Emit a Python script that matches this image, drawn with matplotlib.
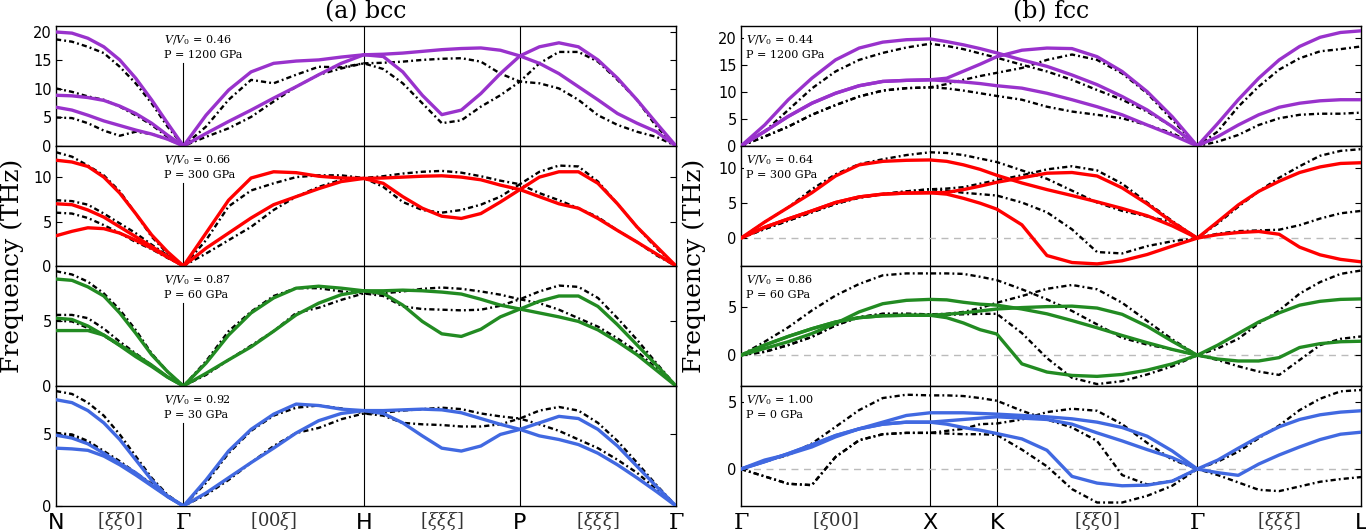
import numpy as np
import matplotlib.pyplot as plt

plt.rcParams['mathtext.fontset'] = 'dejavuserif'

# ---- high-symmetry paths -------------------------------------------------
bcc_points = ['N', r'$\Gamma$', 'H', 'P', r'$\Gamma$']
bcc_dirs = [r'$[\xi\xi0]$', r'$[00\xi]$', r'$[\xi\xi\xi]$', r'$[\xi\xi\xi]$']
bcc_seg_len = [np.sqrt(2) / 2, 1.0, np.sqrt(3) / 2, np.sqrt(3) / 2]
bcc_npts = [9, 9, 9, 9]

fcc_points = [r'$\Gamma$', 'X', 'K', r'$\Gamma$', 'L']
fcc_dirs = [r'$[\xi00]$', '', r'$[\xi\xi0]$', r'$[\xi\xi\xi]$']
fcc_seg_len = [1.0, np.sqrt(2) / 4, 3 * np.sqrt(2) / 4, np.sqrt(3) / 2]
fcc_npts = [9, 5, 9, 9]

# ---- panel info ---------------------------------------------------------
bcc_vv = ['0.46', '0.66', '0.87', '0.92']
bcc_p = ['1200', '300', '60', '30']
bcc_ylim = [(0, 21.05), (0, 13.5), (0, 9.2), (0, 8.3)]
bcc_yticks = [[0, 5, 10, 15, 20], [0, 5, 10], [0, 5], [0, 5]]

fcc_vv = ['0.44', '0.64', '0.86', '1.00']
fcc_p = ['1200', '300', '60', '0']
fcc_ylim = [(0, 22.3), (-4.0, 13.2), (-3.2, 9.27), (-2.76, 6.2)]
fcc_yticks = [[0, 5, 10, 15, 20], [0, 5, 10], [0, 5], [0, 5]]

colors = ['#9932CC', '#FF0000', '#228B22', '#4169E1']

# ---- bcc fitted dispersions (N-G, G-H, H-P, P-G) ----------------------------
bcc_046_fit = [
    [20.0, 19.8, 18.9, 17.4, 15.1, 11.9, 8.1, 4.0, 0.0, 5.4, 9.8, 13.0, 14.5, 14.9, 15.1, 15.6, 16.0,
     16.1, 16.3, 16.6, 16.9, 17.1, 17.2, 16.8, 15.8, 17.4, 18.1, 17.4, 15.1, 11.9, 8.1, 4.0, 0.0],
    [8.9, 8.8, 8.5, 8.0, 7.0, 5.7, 4.0, 1.9, 0.0, 2.2, 4.3, 6.3, 8.4, 10.4, 12.5, 14.5, 16.0,
     15.7, 13.0, 8.9, 5.5, 6.3, 9.2, 12.7, 15.8, 14.5, 12.7, 10.4, 8.1, 5.7, 4.0, 2.5, 0.0],
    [6.8, 6.3, 5.4, 4.4, 3.6, 2.8, 2.1, 1.2, 0.0],
]
bcc_046_md = [
    [18.7, 18.3, 17.4, 16.3, 13.9, 11.0, 7.5, 3.4, 0.0, 3.4, 8.1, 11.6, 11.0, 12.5, 13.9, 13.8, 14.5,
     14.6, 14.8, 15.1, 15.3, 15.4, 14.8, 12.7, 11.3, 14.5, 16.5, 16.5, 14.8, 11.6, 8.1, 3.4, 0.0],
    [10.1, 9.5, 8.7, 8.1, 6.9, 5.4, 3.7, 1.6, 0.0, 1.6, 3.1, 5.1, 7.8, 10.4, 12.5, 13.6, 14.5,
     13.5, 11.0, 7.5, 4.0, 4.5, 6.9, 8.9, 11.3, 11.0, 10.1, 8.1, 5.4, 3.7, 2.5, 1.6, 0.0],
    [5.0, 4.9, 4.0, 2.7, 1.8, 2.5, 2.1, 1.2, 0.0],
]
bcc_066_fit = [
    [11.9, 11.7, 11.2, 10.0, 8.2, 5.9, 3.5, 1.6, 0.0, 3.7, 7.4, 9.9, 10.6, 10.5, 10.1, 9.9, 9.85,
     9.9, 10.0, 10.1, 10.15, 10.0, 9.7, 9.1, 8.6, 10.0, 10.6, 10.6, 9.3, 7.0, 4.4, 2.2, 0.0],
    [7.0, 6.9, 6.3, 5.5, 4.4, 3.3, 2.2, 1.05, 0.0, 2.0, 3.7, 5.4, 6.9, 7.8, 8.7, 9.5, 9.85,
     9.3, 7.8, 6.5, 5.6, 5.35, 5.9, 7.2, 8.6, 7.8, 7.0, 6.5, 5.35, 4.0, 2.7, 1.35, 0.0],
    [3.4, 3.9, 4.3, 4.2, 3.7, 2.9, 2.0, 1.0, 0.0],
]
bcc_066_md = [
    [12.8, 12.3, 11.3, 10.2, 8.4, 5.9, 3.3, 1.4, 0.0, 2.9, 6.7, 8.5, 9.3, 10.0, 10.2, 10.2, 9.9,
     10.1, 10.4, 10.6, 10.7, 10.5, 10.1, 9.6, 9.2, 10.6, 11.3, 11.2, 9.5, 7.0, 4.4, 2.0, 0.0],
    [7.4, 7.3, 6.9, 5.9, 4.8, 3.7, 2.4, 1.2, 0.0, 1.4, 2.9, 4.4, 6.3, 7.8, 8.9, 9.7, 9.9,
     8.9, 7.2, 6.3, 6.0, 6.3, 6.9, 7.8, 9.2, 8.2, 7.4, 6.5, 5.5, 4.0, 2.7, 1.2, 0.0],
    [6.0, 5.9, 5.4, 4.6, 3.7, 2.7, 1.9, 0.9, 0.0],
]
bcc_087_fit = [
    [8.2, 8.1, 7.6, 6.9, 5.6, 4.05, 2.4, 1.1, 0.0, 1.75, 3.9, 5.6, 6.75, 7.5, 7.65, 7.5, 7.3,
     7.3, 7.35, 7.3, 7.2, 7.05, 6.65, 6.2, 5.9, 6.5, 6.9, 6.9, 6.1, 4.7, 3.15, 1.6, 0.0],
    [5.2, 5.1, 4.6, 3.9, 3.15, 2.4, 1.6, 0.7, 0.0, 0.97, 2.0, 3.0, 4.2, 5.45, 6.35, 7.0, 7.3,
     7.1, 6.2, 4.95, 4.0, 3.8, 4.35, 5.3, 5.9, 5.6, 5.3, 4.95, 4.3, 3.4, 2.4, 1.2, 0.0],
    [4.25, 4.25, 4.25, 3.9, 3.1, 2.25, 1.5, 0.67, 0.0],
]
bcc_087_md = [
    [8.8, 8.55, 8.0, 7.1, 5.85, 4.3, 2.5, 1.1, 0.0, 1.9, 4.2, 5.7, 6.9, 7.5, 7.5, 7.25, 7.1,
     7.1, 7.25, 7.45, 7.55, 7.45, 7.25, 7.0, 6.65, 7.25, 7.7, 7.6, 6.75, 5.2, 3.55, 1.75, 0.0],
    [5.45, 5.45, 5.2, 4.4, 3.4, 2.5, 1.6, 0.7, 0.0, 0.85, 2.0, 3.1, 4.2, 5.6, 6.0, 6.6, 7.1,
     6.9, 6.1, 5.9, 5.85, 5.8, 5.85, 6.15, 6.65, 6.35, 5.85, 5.2, 4.55, 3.65, 2.65, 1.35, 0.0],
    [5.0, 4.95, 4.45, 3.85, 3.1, 2.3, 1.55, 0.67, 0.0],
]
bcc_092_fit = [
    [7.35, 7.15, 6.6, 5.75, 4.6, 3.2, 1.8, 0.65, 0.0, 1.8, 3.8, 5.3, 6.35, 7.05, 6.95, 6.7, 6.6,
     6.6, 6.65, 6.7, 6.65, 6.45, 6.05, 5.65, 5.3, 5.75, 6.2, 6.05, 5.3, 4.15, 2.75, 1.35, 0.0],
    [4.9, 4.7, 4.3, 3.65, 2.95, 2.3, 1.45, 0.7, 0.0, 0.9, 1.95, 3.0, 4.0, 5.05, 5.9, 6.4, 6.6,
     6.4, 5.75, 4.85, 4.0, 3.8, 4.15, 4.95, 5.3, 4.85, 4.6, 4.25, 3.65, 2.85, 1.95, 1.0, 0.0],
    [4.0, 3.95, 3.85, 3.45, 2.85, 2.15, 1.4, 0.65, 0.0],
]
bcc_092_md = [
    [7.95, 7.75, 7.15, 6.25, 4.95, 3.45, 1.95, 0.77, 0.0, 1.6, 3.65, 5.2, 6.25, 6.8, 6.95, 6.75, 6.4,
     6.45, 6.6, 6.7, 6.8, 6.7, 6.4, 6.2, 6.05, 6.6, 6.85, 6.6, 5.75, 4.5, 3.0, 1.45, 0.0],
    [5.05, 4.95, 4.5, 3.8, 3.1, 2.3, 1.55, 0.7, 0.0, 0.77, 1.8, 3.0, 4.15, 5.05, 5.4, 6.0, 6.4,
     6.25, 5.75, 5.65, 5.6, 5.5, 5.5, 5.65, 6.05, 5.65, 5.2, 4.6, 4.0, 3.2, 2.3, 1.15, 0.0],
    [5.0, 4.85, 4.4, 3.65, 2.95, 2.25, 1.45, 0.65, 0.0],
]

# ---- fcc fitted dispersions (G-X, X-K, K-G, G-L) ----------------------------
fcc_044_fit = [
    [0.0, 3.9, 8.6, 12.6, 16.0, 18.2, 19.3, 19.75, 19.9, 19.4, 18.8, 18.1, 17.3,
     16.0, 14.8, 13.2, 11.4, 9.2, 6.7, 3.6, 0.0, 4.2, 8.6, 12.6, 16.0, 18.5, 20.2, 21.1, 21.4],
    [0.0, 2.7, 5.5, 7.95, 9.8, 11.2, 12.0, 12.2, 12.3, 12.6, 13.9, 15.2, 16.6,
     17.8, 18.2, 18.1, 16.6, 13.85, 10.1, 5.45, 0.0, 1.75, 3.9, 5.8, 7.2, 7.95, 8.4, 8.6, 8.6],
    [0.0, 2.7, 5.5, 7.95, 9.8, 11.2, 12.0, 12.2, 12.3, 12.1, 11.9, 11.6, 11.2,
     10.75, 9.8, 8.6, 7.3, 5.8, 3.9, 2.05, 0.0],
]
fcc_044_md = [
    [0.0, 2.7, 6.7, 10.7, 13.85, 16.0, 17.3, 18.3, 19.0, 18.6, 18.0, 17.2, 16.4,
     15.1, 13.85, 12.3, 10.4, 8.6, 6.4, 3.6, 0.0, 2.7, 7.3, 11.05, 14.2, 16.3, 17.6, 18.0, 18.5],
    [0.0, 1.75, 3.6, 5.8, 7.6, 9.2, 10.3, 10.75, 10.9, 11.5, 12.3, 13.0, 13.6,
     14.5, 16.0, 17.0, 16.0, 13.5, 9.8, 4.85, 0.0, 0.8, 2.05, 3.9, 5.15, 5.8, 6.0, 6.0, 6.2],
    [0.0, 1.75, 3.6, 5.8, 7.6, 9.2, 10.3, 10.75, 10.9, 10.7, 10.3, 9.8, 9.3,
     8.6, 7.3, 6.4, 5.8, 5.15, 3.9, 2.4, 0.0],
]
fcc_064_fit = [
    [0.0, 2.3, 4.4, 6.5, 8.9, 10.5, 11.0, 11.15, 11.2, 11.0, 10.5, 9.85, 9.0,
     7.9, 6.95, 6.1, 5.2, 4.25, 3.2, 1.75, 0.0, 2.35, 4.75, 6.7, 8.15, 9.4, 10.2, 10.7, 10.8],
    [0.0, 1.55, 2.75, 3.9, 5.1, 5.9, 6.3, 6.45, 6.5, 6.55, 6.95, 7.45, 8.0,
     8.65, 9.3, 9.4, 8.9, 7.2, 4.9, 2.3, 0.0, 0.5, 0.8, 0.95, 0.55, -1.3, -2.4, -3.05, -3.4],
    [0.0, 1.55, 2.75, 3.9, 5.1, 5.9, 6.3, 6.45, 6.5, 6.3, 5.7, 5.0, 4.15,
     1.9, -2.5, -3.5, -3.7, -3.25, -2.35, -1.15, 0.0],
]
fcc_064_md = [
    [0.0, 2.3, 4.4, 7.0, 9.15, 10.6, 11.3, 11.9, 12.3, 12.2, 11.9, 11.4, 10.9,
     9.7, 8.5, 6.8, 5.1, 3.9, 3.1, 2.3, 0.0, 2.1, 4.5, 6.7, 8.65, 10.3, 11.8, 12.5, 12.75],
    [0.0, 1.3, 2.5, 3.7, 4.9, 5.8, 6.3, 6.7, 7.0, 7.1, 7.3, 7.8, 8.3,
     9.0, 9.85, 10.3, 9.7, 7.8, 5.1, 2.45, 0.0, 0.63, 1.0, 1.1, 1.2, 1.85, 2.8, 3.55, 3.9],
    [0.0, 1.3, 2.5, 3.7, 4.9, 5.8, 6.3, 6.7, 7.0, 6.8, 6.5, 6.3, 6.1,
     5.1, 3.7, 1.25, -2.0, -2.2, -1.15, -0.45, 0.0],
]
fcc_086_fit = [
    [0.0, 0.7, 1.4, 2.25, 3.3, 4.5, 5.35, 5.7, 5.8, 5.75, 5.5, 5.3, 5.2,
     4.8, 4.3, 3.6, 2.85, 2.05, 1.3, 0.6, 0.0, 1.05, 2.25, 3.45, 4.4, 5.2, 5.6, 5.8, 5.85],
    [0.0, 1.05, 1.95, 2.75, 3.45, 3.9, 4.1, 4.15, 4.15, 4.25, 4.4, 4.6, 4.8,
     4.95, 5.05, 5.1, 4.9, 4.25, 3.0, 1.45, 0.0, -0.4, -0.6, -0.6, -0.25, 0.8, 1.2, 1.4, 1.45],
    [0.0, 1.05, 1.95, 2.75, 3.45, 3.9, 4.1, 4.15, 4.15, 3.9, 3.35, 2.65, 2.2,
     -0.9, -1.75, -2.1, -2.2, -2.0, -1.55, -0.9, 0.0],
]
fcc_086_md = [
    [0.0, 1.4, 2.9, 4.65, 6.2, 7.4, 8.3, 8.5, 8.5, 8.5, 8.45, 8.15, 7.8,
     6.85, 5.8, 4.6, 3.2, 1.8, 1.1, 0.6, 0.0, 0.7, 1.7, 3.3, 4.65, 6.4, 7.6, 8.45, 8.8],
    [0.0, 0.35, 1.05, 1.9, 3.1, 3.95, 4.3, 4.3, 4.25, 4.3, 4.5, 4.9, 5.45,
     6.15, 6.9, 7.3, 6.85, 5.45, 3.55, 1.65, 0.0, -0.5, -1.15, -1.7, -2.05, -0.5, 1.05, 1.7, 1.95],
    [0.0, 0.35, 1.05, 1.9, 3.1, 3.95, 4.3, 4.3, 4.25, 4.2, 4.25, 4.3, 4.3,
     2.3, -0.3, -2.35, -3.0, -2.7, -2.0, -1.15, 0.0],
]
fcc_100_fit = [
    [0.0, 0.67, 1.1, 1.65, 2.4, 3.0, 3.5, 4.0, 4.2, 4.2, 4.2, 4.15, 4.1,
     4.0, 3.9, 3.75, 3.5, 3.1, 2.45, 1.35, 0.0, 0.67, 1.55, 2.4, 3.15, 3.7, 4.05, 4.25, 4.35],
    [0.0, 0.55, 1.15, 1.8, 2.5, 3.0, 3.35, 3.5, 3.5, 3.6, 3.7, 3.8, 3.9,
     3.8, 3.7, 3.35, 2.7, 2.1, 1.45, 0.85, 0.0, -0.27, -0.47, 0.37, 1.05, 1.65, 2.2, 2.6, 2.75],
    [0.0, 0.55, 1.15, 1.8, 2.5, 3.0, 3.35, 3.5, 3.5, 3.35, 3.1, 2.9, 2.65,
     2.25, 1.4, -0.55, -1.05, -1.25, -1.2, -0.9, 0.0],
]
fcc_100_md = [
    [0.0, 0.55, 1.05, 1.9, 3.15, 4.4, 5.3, 5.55, 5.5, 5.5, 5.45, 5.3, 5.1,
     4.35, 3.7, 3.1, 2.1, -0.45, -1.15, -0.9, 0.0, 0.55, 1.3, 2.3, 3.25, 4.4, 5.25, 5.8, 5.9],
    [0.0, -0.55, -1.1, -1.2, 0.9, 2.15, 2.6, 2.7, 2.7, 2.85, 3.0, 3.35, 3.4,
     3.7, 4.25, 4.5, 4.35, 3.35, 1.95, 0.7, 0.0, -0.45, -1.0, -1.55, -1.65, -1.3, -0.95, -0.75, -0.6],
    [0.0, -0.55, -1.1, -1.2, 0.9, 2.15, 2.6, 2.7, 2.7, 2.65, 2.6, 2.6, 2.55,
     1.45, 0.2, -1.5, -2.5, -2.5, -2.0, -1.25, 0.0],
]

bcc_fit = [bcc_046_fit, bcc_066_fit, bcc_087_fit, bcc_092_fit]
bcc_md = [bcc_046_md, bcc_066_md, bcc_087_md, bcc_092_md]
fcc_fit = [fcc_044_fit, fcc_064_fit, fcc_086_fit, fcc_100_fit]
fcc_md = [fcc_044_md, fcc_064_md, fcc_086_md, fcc_100_md]


def path_x(seg_len, npts):
    """q coordinate of every sampled point along the path."""
    xs = [0.0]
    start = 0.0
    for L, n in zip(seg_len, npts):
        xs.extend(start + np.linspace(0, L, n)[1:])
        start += L
    return np.array(xs)


def draw_column(x0, seg_len, npts, points, dirs, fits, mds, vv, pp, ylims, yticks,
                text_x, gamma_first, zero_line):
    q = path_x(seg_len, npts)
    nodes = np.concatenate([[0], np.cumsum(seg_len)])
    mids = (nodes[:-1] + nodes[1:]) / 2
    for i in range(4):
        bottom = 1 - (26 + 120 * (i + 1)) / 531
        ax = fig.add_axes([x0 / 1366, bottom, 620 / 1366, 120 / 531])
        for j, xv in enumerate(nodes[1:-1]):
            # the line at the first Gamma stops under the label box
            top = 0.69 if (gamma_first and j == 0) else 1.0
            ax.axvline(xv, ymax=top, color='black', lw=0.8, zorder=1)
        if zero_line[i]:
            ax.axhline(0, color='#bbbbbb', lw=1.0, ls=(0, (5, 4)), zorder=1)
        for y in mds[i]:
            ax.plot(q[:len(y)], y, color='black', lw=1.7,
                    ls=(0, (2.2, 1.3, 0.8, 1.3)), zorder=2)
        for y in fits[i]:
            ax.plot(q[:len(y)], y, color=colors[i], lw=2.4, zorder=3,
                    solid_capstyle='round', solid_joinstyle='round')
        ax.set_xlim(0, nodes[-1])
        ax.set_ylim(*ylims[i])
        ax.set_yticks(yticks[i])
        ax.tick_params(axis='y', direction='in', length=4, width=0.8,
                       right=True, labelsize=10.5, pad=3)
        ax.text(text_x, 0.935, r'$V/V_0$ = ' + vv[i] + '\nP = ' + pp[i] + ' GPa',
                transform=ax.transAxes, va='top', ha='left', fontsize=8,
                family='DejaVu Serif', linespacing=1.35, zorder=5,
                bbox=dict(facecolor='white', edgecolor='none', pad=1.5))
        for s in ax.spines.values():
            s.set_linewidth(1.0)
        if i < 3:
            ax.set_xticks([])
        else:
            ax.set_xticks(nodes)
            ax.set_xticklabels(points, fontsize=16)
            ax.set_xticks(mids, minor=True)
            ax.set_xticklabels(dirs, minor=True, fontsize=13, color='#333333')
            ax.tick_params(axis='x', which='major', length=0, pad=5)
            ax.tick_params(axis='x', which='minor', length=0, pad=3)


fig = plt.figure(figsize=(13.66, 5.31), dpi=100)

draw_column(56, bcc_seg_len, bcc_npts, bcc_points, bcc_dirs, bcc_fit, bcc_md,
            bcc_vv, bcc_p, bcc_ylim, bcc_yticks, 0.174, True, [False] * 4)
draw_column(741, fcc_seg_len, fcc_npts, fcc_points, fcc_dirs, fcc_fit, fcc_md,
            fcc_vv, fcc_p, fcc_ylim, fcc_yticks, 0.008, False, [False, True, True, True])

fig.text(366 / 1366, 1 - 12 / 531, '(a) bcc', ha='center', va='center',
         fontsize=17, family='DejaVu Serif')
fig.text(1051 / 1366, 1 - 12 / 531, '(b) fcc', ha='center', va='center',
         fontsize=17, family='DejaVu Serif')
fig.text(12 / 1366, 0.5, 'Frequency (THz)', rotation=90, ha='center', va='center',
         fontsize=18, family='DejaVu Serif')
fig.text(694 / 1366, 0.5, 'Frequency (THz)', rotation=90, ha='center', va='center',
         fontsize=18, family='DejaVu Serif')

fig.savefig('out.png', dpi=100)
